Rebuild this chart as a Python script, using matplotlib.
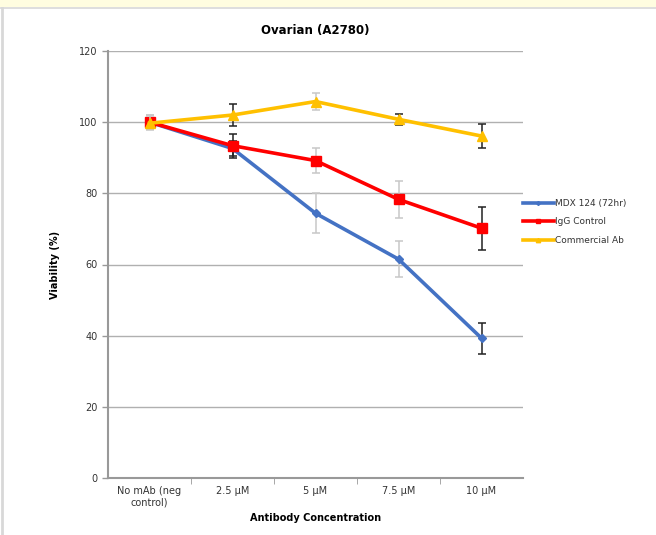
import matplotlib.pyplot as plt
from matplotlib.patches import Rectangle
from matplotlib.lines import Line2D

# ── Dados ─────────────────────────────────────────────
categorias = ["No mAb (neg\ncontrol)", "2.5 µM", "5 µM", "7.5 µM", "10 µM"]

mdx_124 = [100.0, 92.6, 74.4, 61.5, 39.3]
mdx_err = [2.0, 2.0, 5.6, 5.0, 4.4]

igg_ctrl = [100.0, 93.4, 89.2, 78.3, 70.2]
igg_err = [2.0, 3.4, 3.5, 5.3, 6.0]

comercial = [99.7, 102.0, 105.8, 100.8, 96.1]
com_err = [2.0, 3.0, 2.5, 1.6, 3.5]

nomes = ["MDX 124 (72hr)", "IgG Control", "Commercial Ab"]
# ──────────────────────────────────────────────────

AZUL = "#4472C4"
VERMELHO = "#FF0000"
AMARELO = "#FFC000"
CINZA_EB = "#c8c8c8"
ESCURO_EB = "#222222"

fig = plt.figure(figsize=(6.56, 5.35), dpi=100)
fig.patch.set_facecolor("white")

# faixa amarela e bordas da captura de tela
fig.patches.append(Rectangle((0, 1 - 7 / 535), 1, 7 / 535, transform=fig.transFigure,
                             facecolor="#FFFDE0", edgecolor="none", zorder=0))
fig.add_artist(Line2D([0, 1], [1 - 8 / 535] * 2, transform=fig.transFigure,
                      color="#d8d8d8", lw=1.2))
fig.add_artist(Line2D([2 / 656] * 2, [0, 1 - 8 / 535], transform=fig.transFigure,
                      color="#d8d8d8", lw=2))

ax = fig.add_axes([108 / 656, 1 - 478 / 535, (523 - 108) / 656, (478 - 51) / 535])

xs = list(range(len(categorias)))

series = [
    (mdx_124, mdx_err, AZUL, "D", 4.5, [CINZA_EB, ESCURO_EB, CINZA_EB, CINZA_EB, ESCURO_EB]),
    (igg_ctrl, igg_err, VERMELHO, "s", 7.5, [CINZA_EB, ESCURO_EB, CINZA_EB, CINZA_EB, ESCURO_EB]),
    (comercial, com_err, AMARELO, "^", 7, [CINZA_EB, ESCURO_EB, CINZA_EB, ESCURO_EB, ESCURO_EB]),
]

for i, (ys, err, cor, mk, ms, cores_eb) in enumerate(series):
    for x, y, e, c in zip(xs, ys, err, cores_eb):
        ax.errorbar([x], [y], yerr=[e], fmt="none", ecolor=c, elinewidth=1.1,
                    capsize=3, capthick=1.1, zorder=2 + i)
    ax.plot(xs, ys, color=cor, lw=2.6, marker=mk, ms=ms, label=nomes[i], zorder=3 + i)

ax.set_xlim(-0.5, 4.5)
ax.set_ylim(0, 120)
ax.set_yticks(range(0, 121, 20))
ax.set_xticks(xs)
ax.set_xticklabels(categorias, fontsize=7, color="#333333")
ax.tick_params(axis="y", labelsize=7, colors="#999999", labelcolor="#333333",
               length=4, width=1, direction="out")
ax.tick_params(axis="x", length=0, pad=6)
ax.set_xticks([-0.5 + k for k in range(1, 5)], minor=True)
ax.tick_params(axis="x", which="minor", length=4, color="#999999")

ax.grid(axis="y", color="#b0b0b0", lw=1)
ax.set_axisbelow(True)
for lado in ["top", "right"]:
    ax.spines[lado].set_visible(False)
for lado in ["left", "bottom"]:
    ax.spines[lado].set_color("#999999")
    ax.spines[lado].set_linewidth(1.5)

ax.set_title("Ovarian (A2780)", fontsize=8.5, fontweight="bold", pad=12)
ax.set_ylabel("Viability (%)", fontsize=7, fontweight="bold", labelpad=14)
ax.set_xlabel("Antibody Concentration", fontsize=7, fontweight="bold", labelpad=4)

leg = ax.legend(loc="center left", bbox_to_anchor=(0.98, 0.60), frameon=False,
                fontsize=6.5, handlelength=3.4, handletextpad=0.2, labelspacing=1.05,
                markerscale=0.45)
for t in leg.get_texts():
    t.set_color("#333333")

fig.savefig("out.png", dpi=100)
